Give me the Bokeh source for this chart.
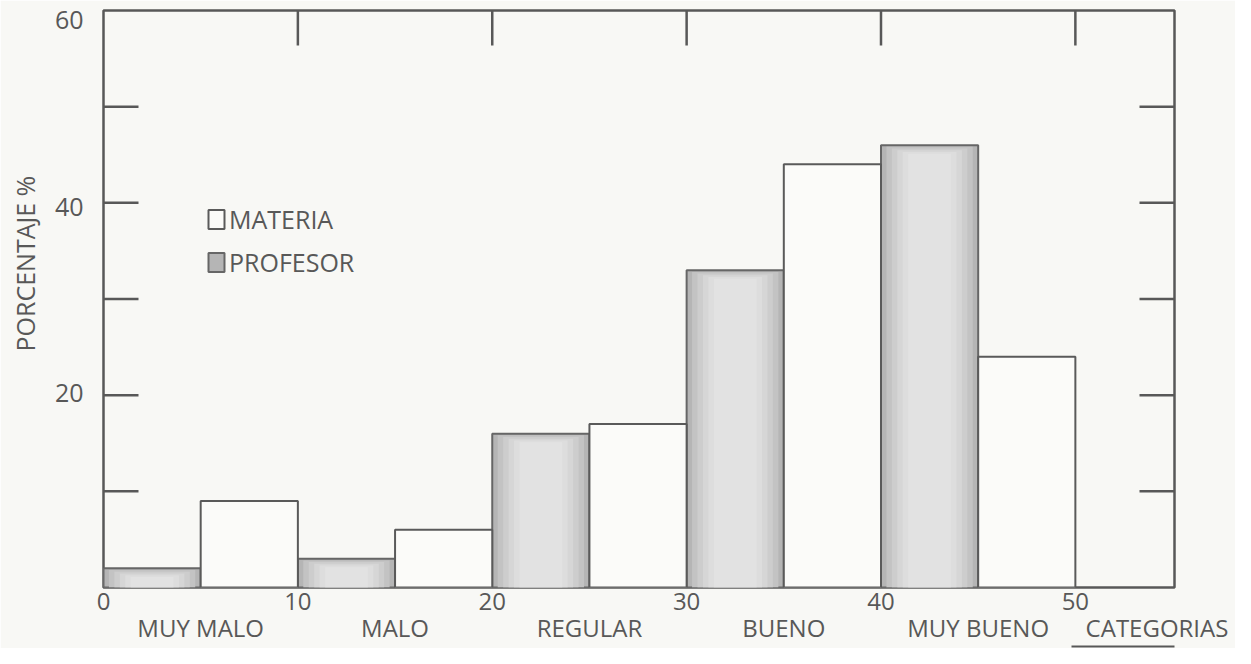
from bokeh.plotting import figure
from bokeh.models import (ColumnDataSource, Range1d, LinearAxis, FixedTicker,
                          Legend, LegendItem, Title)
from bokeh.embed import file_html
from bokeh.resources import INLINE
import math

# ---- data ----
categories = ["MUY MALO", "MALO", "REGULAR", "BUENO", "MUY BUENO"]
profesor = [2, 3, 16, 33, 46]
materia = [9, 6, 17, 44, 24]
x_ticks = [0, 10, 20, 30, 40, 50]
inner_ticks = [10, 20, 30, 40, 50]
y_label_ticks = [20, 40, 60]
axis_title_x = "CATEGORIAS"
axis_title_y = "PORCENTAJE %"

INK = "#585858"
BG = "#f8f8f5"
FONT = "Open Sans"
X_END = 55.1

starts = [i * 10 for i in range(len(categories))]
prof_src = ColumnDataSource(dict(left=starts, right=[s + 5 for s in starts], top=profesor,
                                 bottom=[0] * len(starts)))
mat_src = ColumnDataSource(dict(left=[s + 5 for s in starts], right=[s + 10 for s in starts],
                                top=materia, bottom=[0] * len(starts)))

p = figure(width=1235, height=648, output_backend="svg", toolbar_location=None,
           x_range=Range1d(0, X_END), y_range=Range1d(0, 60),
           x_axis_location=None, y_axis_location=None,
           min_border_left=102, min_border_right=61, min_border_top=10, min_border_bottom=61,
           background_fill_color=BG, border_fill_color=BG)
p.grid.visible = False
p.outline_line_color = INK
p.outline_line_width = 2.5
# slightly stretched scale for the y tick labels, so "60" sits just below the top edge
p.extra_y_ranges = {"lab": Range1d(-0.81, 61.07)}

# gray bars with a soft shading (lighter toward the middle)
r_prof = p.quad(left="left", right="right", top="top", bottom="bottom", source=prof_src,
                fill_color="#b5b5b5", line_color="#666666", line_width=2)
for k, col in enumerate(["#c3c3c3", "#cdcdcd", "#d6d6d6", "#dddddd", "#e2e2e2"]):
    inset = 0.28 * (k + 1)
    p.quad(left=[s + inset for s in starts], right=[s + 5 - inset for s in starts],
           top=[max(v - 0.18 * (k + 1), 0) for v in profesor], bottom=[0] * len(starts),
           fill_color=col, line_color=None)
r_mat = p.quad(left="left", right="right", top="top", bottom="bottom", source=mat_src,
               fill_color="#fbfbf9", line_color="#5a5a5a", line_width=2)

# long inward ticks on left, right and top
tick_kw = dict(length=35, length_units="screen", line_color=INK, line_width=2.5)
p.ray(x=[0] * len(inner_ticks), y=inner_ticks, angle=0, **tick_kw)
p.ray(x=[X_END] * len(inner_ticks), y=inner_ticks, angle=math.pi, **tick_kw)
p.ray(x=inner_ticks, y=[60] * len(inner_ticks), angle=-math.pi / 2, **tick_kw)

# left: numeric labels
yax = LinearAxis(y_range_name="lab", ticker=FixedTicker(ticks=y_label_ticks),
                 major_tick_line_color=None, minor_tick_line_color=None, axis_line_color=None,
                 major_label_text_font=FONT, major_label_text_font_size="25px",
                 major_label_text_color=INK, major_label_standoff=14)
p.add_layout(yax, "left")
# left: title
p.add_layout(Title(text=axis_title_y, align="left", offset=236, standoff=15,
                   vertical_align="top",
                   text_font=FONT, text_font_size="25px", text_font_style="normal",
                   text_color=INK), "left")

# bottom: numbers
xnum = LinearAxis(ticker=FixedTicker(ticks=x_ticks),
                  major_tick_line_color=None, minor_tick_line_color=None, axis_line_color=None,
                  major_label_text_font=FONT, major_label_text_font_size="24px",
                  major_label_text_color=INK, major_label_standoff=-1)
p.add_layout(xnum, "below")
# bottom: category names
cat_pos = [s + 5 for s in starts] + [54.2]
xcat = LinearAxis(ticker=FixedTicker(ticks=cat_pos),
                  major_label_overrides={c: t for c, t in zip(cat_pos, categories + [axis_title_x])},
                  major_tick_line_color=None, minor_tick_line_color=None, axis_line_color=None,
                  major_label_text_font=FONT, major_label_text_font_size="24px",
                  major_label_text_color=INK, major_label_standoff=-8)
p.add_layout(xcat, "below")
# underline of CATEGORIAS
xul = LinearAxis(ticker=FixedTicker(ticks=[]), bounds=(49.8, X_END),
                 axis_line_color=INK, axis_line_width=2,
                 major_tick_line_color=None, minor_tick_line_color=None)
p.add_layout(xul, "below")

legend = Legend(items=[LegendItem(label="MATERIA", renderers=[r_mat]),
                       LegendItem(label="PROFESOR", renderers=[r_prof])],
                location=(103, 308), orientation="vertical",
                glyph_width=20, glyph_height=24, label_height=30, spacing=9,
                padding=0, margin=0, label_standoff=3,
                label_text_font=FONT, label_text_font_size="25px", label_text_color=INK,
                background_fill_alpha=0, border_line_color=None)
p.add_layout(legend)

open("out.html", "w").write(file_html(p, INLINE))
